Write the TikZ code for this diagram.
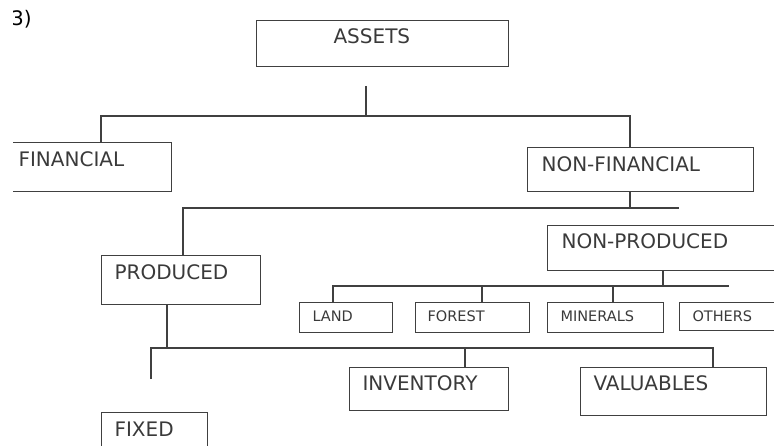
\documentclass[tikz,border=0pt]{standalone}
\usepackage{fontspec}
\setmainfont{DejaVu Sans}
\usetikzlibrary{calc}
\definecolor{linegray}{HTML}{404040}
\definecolor{textgray}{HTML}{3A3A3A}
\newcommand{\biglbl}{\fontsize{20}{24}\selectfont}
\newcommand{\smalllbl}{\fontsize{14.5}{17}\selectfont}
\tikzset{
  box/.style={draw=linegray, line width=1.1pt, text=textgray, anchor=north west,
    inner ysep=0pt, align=left, font=\biglbl},
  sbox/.style={box, font=\smalllbl, text height=19pt, text depth=11pt},
  link/.style={draw=linegray, line width=1.1pt},
}
\begin{document}
\begin{tikzpicture}[x=1pt, y=-1pt]
\useasboundingbox (0,0) rectangle (774,446);
\clip (13,0) rectangle (774,446);

\node[anchor=base west, text=black, font=\biglbl, inner sep=0pt] (num) at (11,26) {3)};

% top level
\node[box, inner xsep=77pt, text width=98pt, text height=23pt, text depth=23pt] (assets) at (256,20) {ASSETS};
\node[box, inner xsep=14pt, text width=139pt, text height=24pt, text depth=25pt] (financial) at (4,142) {FINANCIAL};
\node[box, inner xsep=14pt, text width=198pt, text height=24pt, text depth=20pt] (nonfinancial) at (527,147) {NON-FINANCIAL};

% second level
\node[box, inner xsep=13pt, text width=133pt, text height=24pt, text depth=25pt] (produced) at (101,255) {PRODUCED};
\node[box, inner xsep=14pt, text width=225pt, text height=23pt, text depth=22pt] (nonproduced) at (547,225) {NON-PRODUCED};

% non-produced items
\node[sbox, inner xsep=13pt, text width=67pt] (land) at (299,302) {LAND};
\node[sbox, inner xsep=12pt, text width=90pt] (forest) at (415,302) {FOREST};
\node[sbox, inner xsep=13pt, text width=90pt] (minerals) at (547,302) {MINERALS};
\node[sbox, inner xsep=13pt, text width=75pt, text depth=9pt] (others) at (679,302) {OTHERS};

% produced items
\node[box, inner xsep=13pt, text width=133pt, text height=23pt, text depth=20pt] (inventory) at (349,367) {INVENTORY};
\node[box, inner xsep=13pt, text width=160pt, text height=23pt, text depth=25pt] (valuables) at (580,367) {VALUABLES};
\node[box, inner xsep=13pt, text width=80pt, text height=24pt, text depth=24pt] (fixed) at (101,412) {FIXED};

% bus points
\coordinate (atop) at (366,86);
\coordinate (b1l) at (101,116);
\coordinate (b1r) at (630,116);
\coordinate (b2l) at (183,208);
\coordinate (b2r) at (679,208);
\coordinate (b3l) at (333,286);
\coordinate (b3j) at (663,286);
\coordinate (b3r) at (729,286);
\coordinate (b4l) at (151,348);
\coordinate (b4r) at (713,348);
\coordinate (fixedstub) at (151,379);

\draw[link] (atop) -- (atop |- b1l);
\draw[link] (financial.north -| b1l) |- (b1r) -- (nonfinancial.north -| b1r);

\draw[link] (nonfinancial.south -| b1r) -- (b1r |- b2l);
\draw[link] (produced.north -| b2l) -- (b2l) -- (b2r);

\draw[link] (nonproduced.south -| b3j) -- (b3j);
\draw[link] (land.north -| b3l) -- (b3l) -- (b3r);
\foreach \n/\x in {forest/482, minerals/613}
  \draw[link] (\x,286) -- (\x,0 |- \n.north);

\draw[link] (produced.south -| 167,0) -- (167,348);
\draw[link] (fixedstub) -- (b4l) -- (b4r) -- (valuables.north -| b4r);
\draw[link] (465,348) -- (465,0 |- inventory.north);
\end{tikzpicture}
\end{document}
